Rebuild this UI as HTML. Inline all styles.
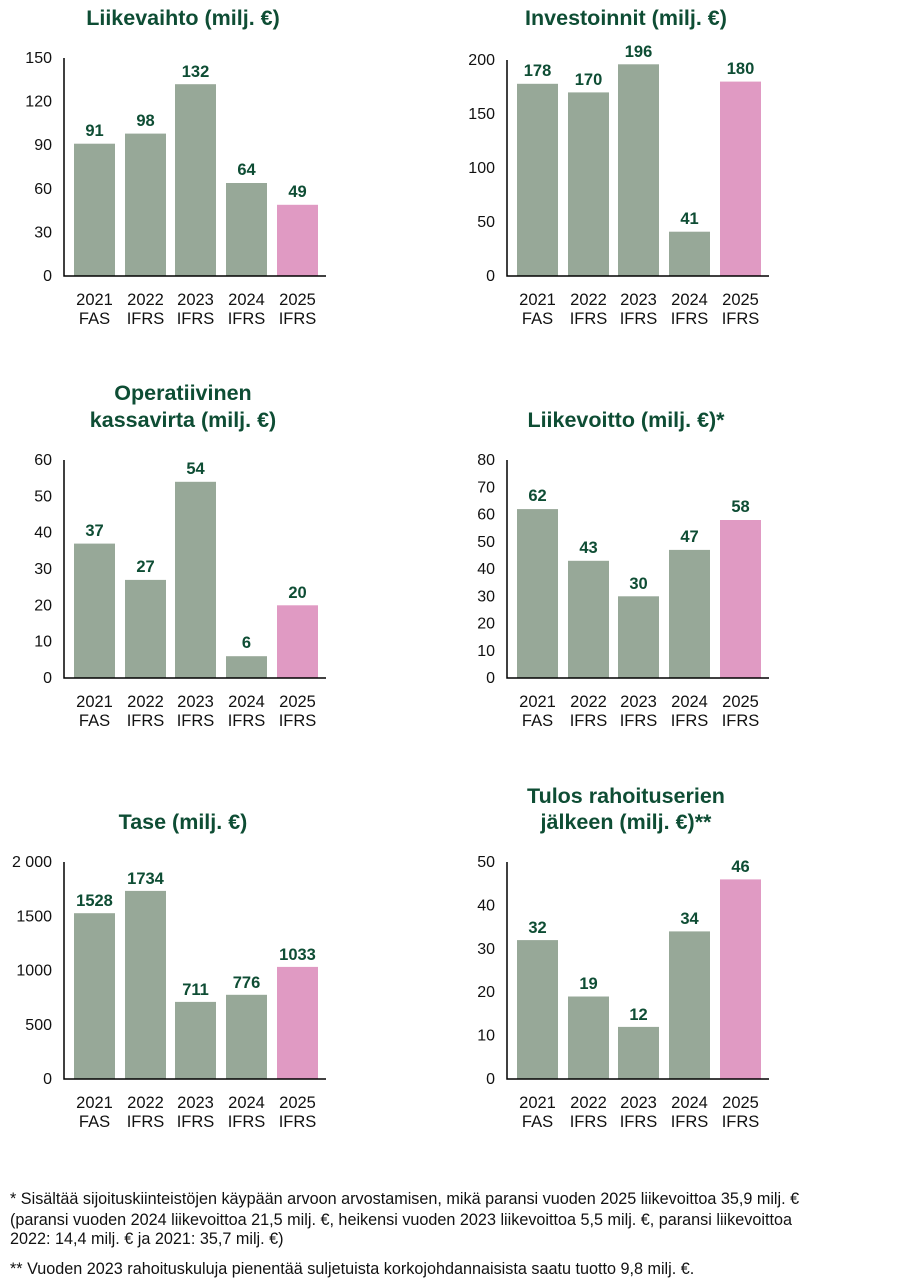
<!DOCTYPE html>
<html><head><meta charset="utf-8"><style>
body{margin:0;background:#fff;width:920px;height:1280px;overflow:hidden}
svg{display:block}
.t{font:bold 21.5px "Liberation Sans",sans-serif;fill:#0e4d34;text-anchor:middle}
.v{font:bold 16.5px "Liberation Sans",sans-serif;fill:#0e4d34;text-anchor:middle}
.y{font:16px "Liberation Sans",sans-serif;fill:#111;text-anchor:end}
.c{font:16.5px "Liberation Sans",sans-serif;fill:#111;text-anchor:middle}
.f{font:16.2px "Liberation Sans",sans-serif;fill:#111}
.g{fill:#97a898}.p{fill:#e09ac3}
</style></head><body>
<svg width="920" height="1280" viewBox="0 0 920 1280">
<!-- Chart 1 -->
<text class="t" x="183" y="25">Liikevaihto (milj. €)</text>
<g class="y"><text x="52" y="281">0</text><text x="52" y="237.4">30</text><text x="52" y="193.8">60</text><text x="52" y="150.2">90</text><text x="52" y="106.6">120</text><text x="52" y="63">150</text></g>
<rect class="g" x="74" y="143.7" width="41" height="132.3"/><rect class="g" x="125" y="133.6" width="41" height="142.4"/><rect class="g" x="175" y="84.2" width="41" height="191.8"/><rect class="g" x="226" y="183" width="41" height="93"/><rect class="p" x="277" y="204.8" width="41" height="71.2"/>
<g class="v"><text x="94.5" y="136">91</text><text x="145.5" y="126">98</text><text x="195.5" y="77">132</text><text x="246.5" y="175">64</text><text x="297.5" y="197">49</text></g>
<path d="M64 58V276H326" stroke="#000" stroke-width="1.5" fill="none"/>
<g class="c"><text x="94.5" y="305">2021</text><text x="94.5" y="324">FAS</text><text x="145.5" y="305">2022</text><text x="145.5" y="324">IFRS</text><text x="195.5" y="305">2023</text><text x="195.5" y="324">IFRS</text><text x="246.5" y="305">2024</text><text x="246.5" y="324">IFRS</text><text x="297.5" y="305">2025</text><text x="297.5" y="324">IFRS</text></g>

<!-- Chart 2 -->
<text class="t" x="626" y="25">Investoinnit (milj. €)</text>
<g class="y"><text x="495" y="281">0</text><text x="495" y="227">50</text><text x="495" y="173">100</text><text x="495" y="119">150</text><text x="495" y="65">200</text></g>
<rect class="g" x="517" y="83.8" width="41" height="192.2"/><rect class="g" x="568" y="92.4" width="41" height="183.6"/><rect class="g" x="618" y="64.3" width="41" height="211.7"/><rect class="g" x="669" y="231.7" width="41" height="44.3"/><rect class="p" x="720" y="81.6" width="41" height="194.4"/>
<g class="v"><text x="537.5" y="76">178</text><text x="588.5" y="85">170</text><text x="638.5" y="57">196</text><text x="689.5" y="224">41</text><text x="740.5" y="74">180</text></g>
<path d="M507 60V276H769" stroke="#000" stroke-width="1.5" fill="none"/>
<g class="c"><text x="537.5" y="305">2021</text><text x="537.5" y="324">FAS</text><text x="588.5" y="305">2022</text><text x="588.5" y="324">IFRS</text><text x="638.5" y="305">2023</text><text x="638.5" y="324">IFRS</text><text x="689.5" y="305">2024</text><text x="689.5" y="324">IFRS</text><text x="740.5" y="305">2025</text><text x="740.5" y="324">IFRS</text></g>

<!-- Chart 3 -->
<text class="t" x="183" y="400">Operatiivinen</text><text class="t" x="183" y="427">kassavirta (milj. €)</text>
<g class="y"><text x="52" y="683">0</text><text x="52" y="646.7">10</text><text x="52" y="610.3">20</text><text x="52" y="574">30</text><text x="52" y="537.7">40</text><text x="52" y="501.3">50</text><text x="52" y="465">60</text></g>
<rect class="g" x="74" y="543.6" width="41" height="134.4"/><rect class="g" x="125" y="579.9" width="41" height="98.1"/><rect class="g" x="175" y="481.8" width="41" height="196.2"/><rect class="g" x="226" y="656.2" width="41" height="21.8"/><rect class="p" x="277" y="605.3" width="41" height="72.7"/>
<g class="v"><text x="94.5" y="536">37</text><text x="145.5" y="572">27</text><text x="195.5" y="474">54</text><text x="246.5" y="648">6</text><text x="297.5" y="598">20</text></g>
<path d="M64 460V678H326" stroke="#000" stroke-width="1.5" fill="none"/>
<g class="c"><text x="94.5" y="707">2021</text><text x="94.5" y="726">FAS</text><text x="145.5" y="707">2022</text><text x="145.5" y="726">IFRS</text><text x="195.5" y="707">2023</text><text x="195.5" y="726">IFRS</text><text x="246.5" y="707">2024</text><text x="246.5" y="726">IFRS</text><text x="297.5" y="707">2025</text><text x="297.5" y="726">IFRS</text></g>

<!-- Chart 4 -->
<text class="t" x="626" y="427">Liikevoitto (milj. €)*</text>
<g class="y"><text x="495" y="683">0</text><text x="495" y="655.75">10</text><text x="495" y="628.5">20</text><text x="495" y="601.25">30</text><text x="495" y="574">40</text><text x="495" y="546.75">50</text><text x="495" y="519.5">60</text><text x="495" y="492.25">70</text><text x="495" y="465">80</text></g>
<rect class="g" x="517" y="509.1" width="41" height="168.9"/><rect class="g" x="568" y="560.8" width="41" height="117.2"/><rect class="g" x="618" y="596.3" width="41" height="81.7"/><rect class="g" x="669" y="549.9" width="41" height="128.1"/><rect class="p" x="720" y="520" width="41" height="158"/>
<g class="v"><text x="537.5" y="501">62</text><text x="588.5" y="553">43</text><text x="638.5" y="589">30</text><text x="689.5" y="542">47</text><text x="740.5" y="512">58</text></g>
<path d="M507 460V678H769" stroke="#000" stroke-width="1.5" fill="none"/>
<g class="c"><text x="537.5" y="707">2021</text><text x="537.5" y="726">FAS</text><text x="588.5" y="707">2022</text><text x="588.5" y="726">IFRS</text><text x="638.5" y="707">2023</text><text x="638.5" y="726">IFRS</text><text x="689.5" y="707">2024</text><text x="689.5" y="726">IFRS</text><text x="740.5" y="707">2025</text><text x="740.5" y="726">IFRS</text></g>

<!-- Chart 5 -->
<text class="t" x="183" y="829">Tase (milj. €)</text>
<g class="y"><text x="52" y="1084">0</text><text x="52" y="1029.75">500</text><text x="52" y="975.5">1000</text><text x="52" y="921.25">1500</text><text x="52" y="867">2 000</text></g>
<rect class="g" x="74" y="913.2" width="41" height="165.8"/><rect class="g" x="125" y="890.9" width="41" height="188.1"/><rect class="g" x="175" y="1001.9" width="41" height="77.1"/><rect class="g" x="226" y="994.8" width="41" height="84.2"/><rect class="p" x="277" y="966.9" width="41" height="112.1"/>
<g class="v"><text x="94.5" y="906">1528</text><text x="145.5" y="884">1734</text><text x="195.5" y="995">711</text><text x="246.5" y="988">776</text><text x="297.5" y="960">1033</text></g>
<path d="M64 862V1079H326" stroke="#000" stroke-width="1.5" fill="none"/>
<g class="c"><text x="94.5" y="1108">2021</text><text x="94.5" y="1127">FAS</text><text x="145.5" y="1108">2022</text><text x="145.5" y="1127">IFRS</text><text x="195.5" y="1108">2023</text><text x="195.5" y="1127">IFRS</text><text x="246.5" y="1108">2024</text><text x="246.5" y="1127">IFRS</text><text x="297.5" y="1108">2025</text><text x="297.5" y="1127">IFRS</text></g>

<!-- Chart 6 -->
<text class="t" x="626" y="803">Tulos rahoituserien</text><text class="t" x="626" y="829">jälkeen (milj. €)**</text>
<g class="y"><text x="495" y="1084">0</text><text x="495" y="1040.6">10</text><text x="495" y="997.2">20</text><text x="495" y="953.8">30</text><text x="495" y="910.4">40</text><text x="495" y="867">50</text></g>
<rect class="g" x="517" y="940.1" width="41" height="138.9"/><rect class="g" x="568" y="996.5" width="41" height="82.5"/><rect class="g" x="618" y="1026.9" width="41" height="52.1"/><rect class="g" x="669" y="931.4" width="41" height="147.6"/><rect class="p" x="720" y="879.4" width="41" height="199.6"/>
<g class="v"><text x="537.5" y="933">32</text><text x="588.5" y="989">19</text><text x="638.5" y="1020">12</text><text x="689.5" y="924">34</text><text x="740.5" y="872">46</text></g>
<path d="M507 862V1079H769" stroke="#000" stroke-width="1.5" fill="none"/>
<g class="c"><text x="537.5" y="1108">2021</text><text x="537.5" y="1127">FAS</text><text x="588.5" y="1108">2022</text><text x="588.5" y="1127">IFRS</text><text x="638.5" y="1108">2023</text><text x="638.5" y="1127">IFRS</text><text x="689.5" y="1108">2024</text><text x="689.5" y="1127">IFRS</text><text x="740.5" y="1108">2025</text><text x="740.5" y="1127">IFRS</text></g>

<!-- Footnotes -->
<g class="f">
<text x="10" y="1204">* Sisältää sijoituskiinteistöjen käypään arvoon arvostamisen, mikä paransi vuoden 2025 liikevoittoa 35,9 milj. €</text>
<text x="10" y="1225">(paransi vuoden 2024 liikevoittoa 21,5 milj. €, heikensi vuoden 2023 liikevoittoa 5,5 milj. €, paransi liikevoittoa</text>
<text x="10" y="1244">2022: 14,4 milj. € ja 2021: 35,7 milj. €)</text>
<text x="10" y="1274">** Vuoden 2023 rahoituskuluja pienentää suljetuista korkojohdannaisista saatu tuotto 9,8 milj. €.</text>
</g>
</svg>
</body></html>
